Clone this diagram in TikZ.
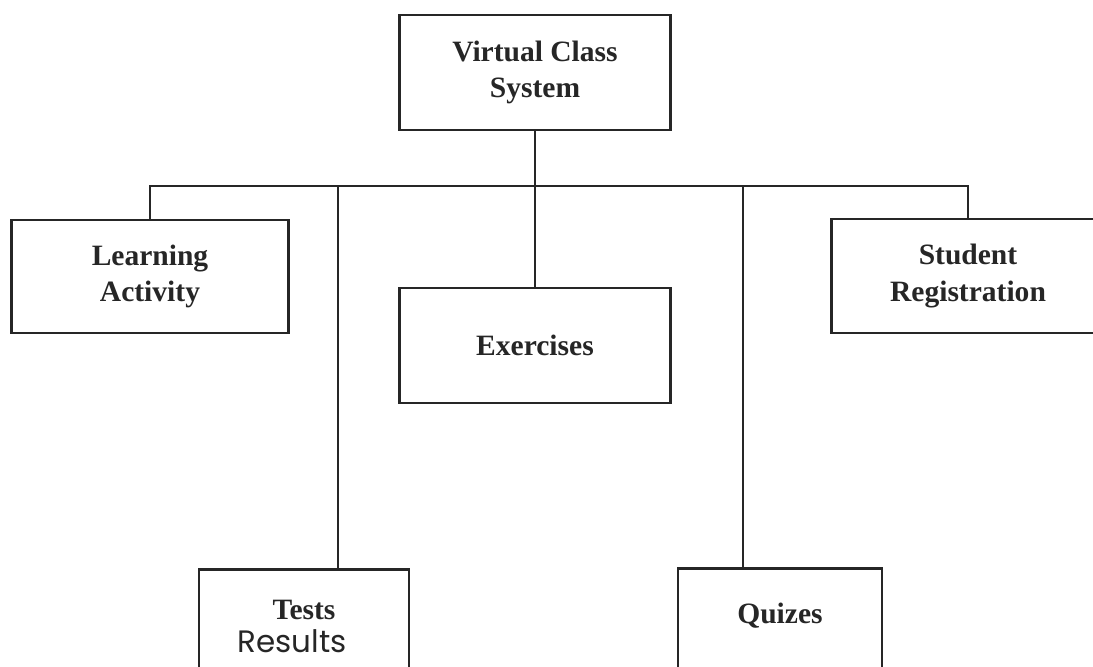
\documentclass[tikz,border=0pt]{standalone}
\usepackage{fontspec}
\setmainfont{Liberation Serif}
\newfontfamily\handfont{Poppins}
\usetikzlibrary{positioning}

\begin{document}
\begin{tikzpicture}[x=0.025cm,y=-0.025cm,
  box/.style={draw=black!85,line width=2pt,fill=white,align=center,inner sep=4pt,
    text=black!85,font=\bfseries\fontsize{21}{26}\selectfont},
  link/.style={draw=black!85,line width=2pt,line join=miter}]
  \useasboundingbox (0,0) rectangle (1093,666);
  \clip (0,0) rectangle (1093,666);
  \fill[white] (0,0) rectangle (1093,666);

  \node[box,minimum width=6.775cm,minimum height=2.875cm] (sys) at (535,72.5) {Virtual Class\\System};
  \node[box,minimum width=6.925cm,minimum height=2.825cm] (learn) at (150,276.5) {Learning\\Activity};
  \node[box,minimum width=6.775cm,minimum height=2.875cm] (exer) at (535,345.5) {Exercises};
  \node[box,minimum width=6.825cm,minimum height=2.85cm] (reg) at (968,276) {Student\\Registration};
  \node[box,anchor=north,minimum width=5.25cm,minimum height=2.85cm] (tests) at (304,568)
    {Tests\\[-3pt]{\handfont\mdseries\fontsize{22}{24}\selectfont Results\hspace*{0.6cm}}};
  \node[box,anchor=north,minimum width=5.1cm,minimum height=2.85cm,text depth=0.6cm] (quiz) at (780,567) {Quizes};

  % bus line
  \coordinate (busL) at (150,186);
  \coordinate (busR) at (968,186);
  \coordinate (busT) at (338,186);
  \coordinate (busQ) at (743,186);
  \draw[link] (learn.north) -- (busL) -- (busR) -- (reg.north);
  \draw[link] (sys.south) -- (exer.north);
  \draw[link] (busT) -- (busT |- tests.north);
  \draw[link] (busQ) -- (busQ |- quiz.north);
\end{tikzpicture}
\end{document}
